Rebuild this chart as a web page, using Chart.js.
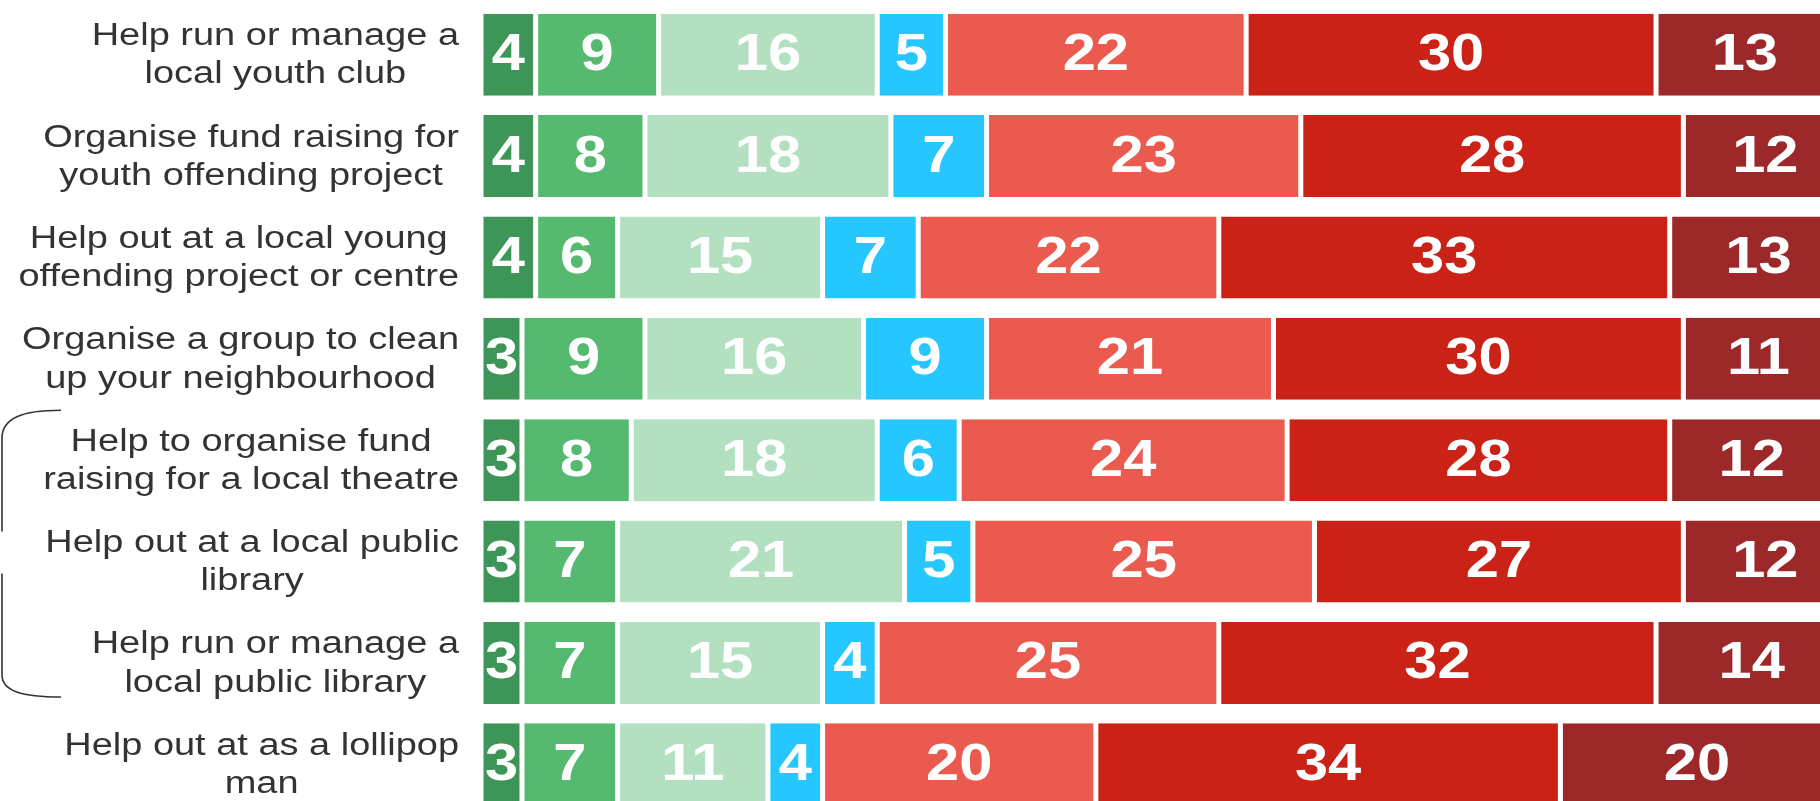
<!DOCTYPE html>
<html>
<head>
<meta charset="utf-8">
<script src="https://cdn.jsdelivr.net/npm/chart.js@4/dist/chart.umd.min.js"></script>
<style>
  html, body { margin: 0; padding: 0; background: #fff; overflow: hidden; }
  #wrap { position: relative; width: 1820px; height: 816px; }
</style>
</head>
<body>
<div id="wrap"><canvas id="activities"></canvas></div>
<script>
let categories = [
  ['Help run or manage a', 'local youth club'],
  ['Organise fund raising for', 'youth offending project'],
  ['Help out at a local young', 'offending project or centre'],
  ['Organise a group to clean', 'up your neighbourhood'],
  ['Help to organise fund', 'raising for a local theatre'],
  ['Help out at a local public', 'library'],
  ['Help run or manage a', 'local public library'],
  ['Help out at as a lollipop', 'man']
];

let seriesNames = ['Definitely', 'Very likely', 'Fairly likely', "Don't know", 'Not very likely', 'Not at all likely', 'Definitely not'];
let seriesColors = ['#3d9658', '#55b970', '#b2e0c0', '#26c6fe', '#ea5a4f', '#ca2216', '#9c282a'];

let definitely    = [4, 4, 4, 3, 3, 3, 3, 3];
let veryLikely    = [9, 8, 6, 9, 8, 7, 7, 7];
let fairlyLikely  = [16, 18, 15, 16, 18, 21, 15, 11];
let dontKnow      = [5, 7, 7, 9, 6, 5, 4, 4];
let notVeryLikely = [22, 23, 22, 21, 24, 25, 25, 20];
let notAtAll      = [30, 28, 33, 30, 28, 27, 32, 34];
let definitelyNot = [13, 12, 13, 11, 12, 12, 14, 20];

let seriesValues = [definitely, veryLikely, fairlyLikely, dontKnow, notVeryLikely, notAtAll, definitelyNot];

let FONT = '"Liberation Sans", Arial, sans-serif';

// text in the original is a little wider than normal Arial
function stretchedText(ctx, text, x, y, sx) {
  ctx.save();
  ctx.translate(x, y);
  ctx.scale(sx, 1);
  ctx.fillText(text, 0, 0);
  ctx.restore();
}

let labelsPlugin = {
  id: 'labels',
  afterDatasetsDraw: function (chart) {
    let ctx = chart.ctx;
    let yScale = chart.scales.y;

    // row labels, lines centred inside a right aligned block
    let sx = 1.225;
    ctx.save();
    ctx.fillStyle = '#333333';
    ctx.font = '31px ' + FONT;
    ctx.textAlign = 'center';
    ctx.textBaseline = 'alphabetic';
    categories.forEach(function (lines, i) {
      let yc = yScale.getPixelForValue(i);
      let maxW = 0;
      lines.forEach(function (l) { maxW = Math.max(maxW, ctx.measureText(l).width * sx); });
      let cx = 459 - maxW / 2;
      stretchedText(ctx, lines[0], cx, yc - 9.5, sx);
      stretchedText(ctx, lines[1], cx, yc + 28.8, sx);
    });
    ctx.restore();

    // values in the segments
    ctx.save();
    ctx.fillStyle = '#ffffff';
    ctx.font = 'bold 51px ' + FONT;
    ctx.textAlign = 'center';
    ctx.textBaseline = 'alphabetic';
    chart.data.datasets.forEach(function (ds, d) {
      let meta = chart.getDatasetMeta(d);
      meta.data.forEach(function (bar, i) {
        let cx = (bar.x + bar.base) / 2;
        stretchedText(ctx, String(ds.data[i]), cx, bar.y + 15.5, 1.17);
      });
    });
    ctx.restore();

    // bracket round the three library / theatre rows
    let top = yScale.getPixelForValue(4) - 50;
    let bottom = yScale.getPixelForValue(6) + 34;
    let mid = yScale.getPixelForValue(5);
    ctx.save();
    ctx.strokeStyle = '#333333';
    ctx.lineWidth = 1.6;
    ctx.beginPath();
    ctx.moveTo(61, top);
    ctx.bezierCurveTo(22, top, 2, top + 8, 2, top + 28);
    ctx.lineTo(2, mid - 30);
    ctx.moveTo(2, mid + 12);
    ctx.lineTo(2, bottom - 22);
    ctx.bezierCurveTo(2, bottom - 6, 22, bottom, 61, bottom);
    ctx.stroke();
    ctx.restore();
  }
};

let ctx = document.getElementById('activities').getContext('2d');
let activities = new Chart(ctx, {
  type: 'bar',
  data: {
    labels: categories,
    datasets: seriesValues.map(function (vals, k) {
      return {
        label: seriesNames[k],
        data: vals,
        backgroundColor: seriesColors[k],
        borderColor: '#ffffff',
        borderWidth: { left: 2.5, right: 2.5, top: 0, bottom: 0 },
        borderSkipped: false,
        barPercentage: 0.81,
        categoryPercentage: 1
      };
    })
  },
  options: {
    indexAxis: 'y',
    responsive: true,
    maintainAspectRatio: false,
    animation: false,
    layout: { padding: { left: 481, right: 0, top: 4, bottom: 1 } },
    scales: {
      x: { stacked: true, min: 0, max: 98, display: false },
      y: { stacked: true, display: false }
    },
    plugins: {
      legend: { display: false },
      tooltip: { enabled: false }
    }
  },
  plugins: [labelsPlugin]
});
</script>
</body>
</html>
